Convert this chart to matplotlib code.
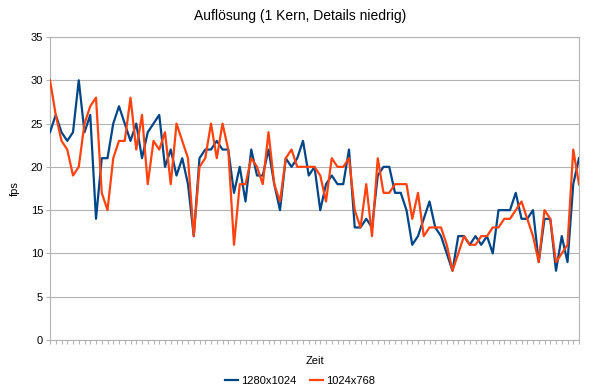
import numpy as np
import matplotlib
matplotlib.use("Agg")
import matplotlib.pyplot as plt

plt.rcParams['font.family'] = ['Liberation Sans', 'DejaVu Sans']

# fps-Werte pro Messpunkt
fps_1280 = [24, 26, 24, 23, 24, 30, 24, 26, 14, 21, 21, 25, 27, 25, 23, 25,
            21, 24, 25, 26, 20, 22, 19, 21, 18, 12, 21, 22, 22, 23, 22, 22,
            17, 20, 16, 22, 19, 19, 22, 18, 15, 21, 20, 21, 23, 19, 20, 15,
            18, 19, 18, 18, 22, 13, 13, 14, 13, 19, 20, 20, 17, 17, 15, 11,
            12, 14, 16, 13, 12, 10, 8, 12, 12, 11, 12, 11, 12, 10, 15, 15,
            15, 17, 14, 14, 15, 9, 14, 14, 8, 12, 9, 18, 21]
fps_1024 = [30, 26, 23, 22, 19, 20, 25, 27, 28, 17, 15, 21, 23, 23, 28, 22,
            26, 18, 23, 22, 24, 18, 25, 23, 21, 12, 20, 21, 25, 21, 25, 22,
            11, 18, 18, 21, 20, 18, 24, 18, 16, 21, 22, 20, 20, 20, 20, 19,
            16, 21, 20, 20, 21, 15, 13, 18, 12, 21, 17, 17, 18, 18, 18, 14,
            17, 12, 13, 13, 13, 11, 8, 10, 12, 11, 11, 12, 12, 13, 13, 14,
            14, 15, 16, 14, 12, 9, 15, 14, 9, 10, 11, 22, 18]
series_names = ['1280x1024', '1024x768']
y_ticks = [0, 5, 10, 15, 20, 25, 30, 35]

x = np.arange(len(fps_1280))
grid_col = '#b3b3b3'

fig = plt.figure(figsize=(6, 3.92), dpi=100)
ax = fig.add_axes([50 / 600, 1 - 340 / 392, 529 / 600, 303 / 392])

ax.plot(x, fps_1280, color='#004586', lw=1.6, label=series_names[0], zorder=3)
ax.plot(x, fps_1024, color='#ff420e', lw=1.6, label=series_names[1], zorder=3)

ax.set_xlim(0, len(x) - 1)
ax.set_ylim(0, 35)
ax.set_yticks(y_ticks)
ax.set_xticks(x)
ax.set_xticklabels([])
ax.tick_params(axis='x', length=3, color=grid_col, width=0.8)
ax.tick_params(axis='y', length=3, color=grid_col, width=0.8, labelsize=8, pad=2)
ax.yaxis.grid(True, color=grid_col, lw=0.8)
ax.set_axisbelow(True)
for s in ax.spines.values():
    s.set_color(grid_col)
    s.set_linewidth(0.8)

ax.set_ylabel('fps', fontsize=8, labelpad=8)
ax.set_xlabel('Zeit', fontsize=8, labelpad=5)
fig.text(0.5, 1 - 16 / 392, 'Auflösung (1 Kern, Details niedrig)',
         ha='center', va='center', fontsize=10)

fig.legend(loc='center', bbox_to_anchor=(0.5, 1 - 381 / 392), ncol=2,
           frameon=False, fontsize=8, handlelength=1.2, handletextpad=0.3,
           columnspacing=1.2)

fig.savefig('out.png', dpi=100)
